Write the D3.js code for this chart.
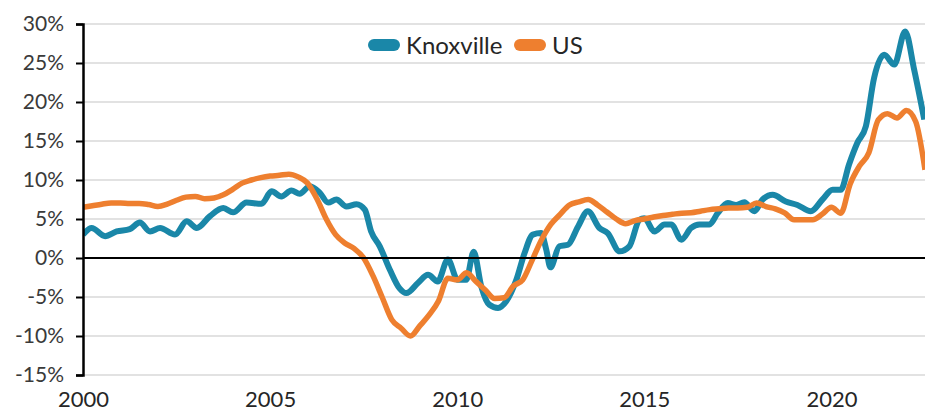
<!DOCTYPE html>
<html>
<head>
<meta charset="utf-8">
<script src="https://cdn.jsdelivr.net/npm/d3@7"></script>
<style>
  body { margin: 0; background: #fff; }
  svg { display: block; font-family: Lato, "Open Sans", sans-serif; }
</style>
</head>
<body>
<div id="container"></div>
<script>
// year-over-year change, %
const knoxYears = [2000.0, 2000.23, 2000.59, 2000.9, 2001.25, 2001.52, 2001.79, 2002.06, 2002.46, 2002.77,
  2003.04, 2003.39, 2003.75, 2004.01, 2004.37, 2004.77, 2005.04, 2005.3, 2005.57, 2005.79,
  2006.06, 2006.33, 2006.55, 2006.77, 2007.04, 2007.31, 2007.53, 2007.7, 2007.93, 2008.2,
  2008.46, 2008.64, 2008.95, 2009.22, 2009.48, 2009.75, 2010.01, 2010.24, 2010.44, 2010.64,
  2010.86, 2011.09, 2011.31, 2011.58, 2011.8, 2012.02, 2012.24, 2012.38, 2012.49, 2012.73,
  2012.96, 2013.23, 2013.49, 2013.8, 2014.02, 2014.34, 2014.6, 2014.87, 2015.0, 2015.27,
  2015.54, 2015.72, 2015.99, 2016.25, 2016.47, 2016.74, 2016.96, 2017.23, 2017.45, 2017.67,
  2017.94, 2018.16, 2018.43, 2018.78, 2019.09, 2019.45, 2019.76, 2020.03, 2020.25, 2020.47,
  2020.69, 2020.92, 2021.14, 2021.41, 2021.68, 2021.97, 2022.21, 2022.48];
const knoxValues = [3.0, 3.85, 2.8, 3.4, 3.7, 4.55, 3.4, 3.85, 3.0, 4.7,
  3.85, 5.35, 6.4, 5.85, 7.1, 6.95, 8.55, 7.9, 8.65, 8.25,
  9.2, 8.35, 7.1, 7.5, 6.6, 6.9, 6.2, 3.4, 1.5, -1.5,
  -3.9, -4.5, -3.2, -2.15, -3.0, -0.2, -2.8, -2.8, 0.8, -3.6,
  -6.0, -6.4, -5.55, -2.8, 0.65, 3.0, 3.2, 1.05, -1.2, 1.5,
  1.7, 4.05, 6.0, 3.85, 3.2, 0.85, 1.5, 4.9, 5.1, 3.4,
  4.3, 4.3, 2.35, 3.85, 4.3, 4.3, 5.75, 7.05, 6.8, 7.15,
  6.0, 7.5, 8.1, 7.25, 6.8, 6.0, 7.5, 8.75, 8.75, 12.0,
  14.75, 16.9, 23.1, 26.05, 24.8, 29.05, 24.15, 17.75];

const usYears = d3.range(2000, 2022.51, 0.25);
const usValues = [6.5, 6.7, 6.9, 7.05, 7.05, 7.0, 7.0, 6.85, 6.6, 6.9,
  7.4, 7.8, 7.9, 7.6, 7.7, 8.1, 8.8, 9.6, 10.0, 10.3,
  10.5, 10.6, 10.75, 10.4, 9.6, 7.6, 5.0, 3.0, 1.9, 1.2,
  0.0, -2.3, -5.1, -7.9, -9.0, -10.0, -8.7, -7.3, -5.5, -2.6,
  -2.8, -1.9, -3.0, -4.1, -5.2, -5.1, -3.6, -2.8, -0.3, 2.3,
  4.3, 5.6, 6.8, 7.2, 7.5, 6.8, 5.9, 5.0, 4.4, 4.8,
  5.0, 5.25, 5.45, 5.6, 5.75, 5.8, 6.0, 6.2, 6.3, 6.4,
  6.4, 6.5, 7.05, 6.6, 6.3, 5.8, 4.9, 4.9, 4.9, 5.6,
  6.5, 5.75, 9.5, 11.8, 13.5, 17.7, 18.5, 17.95, 18.9, 17.5,
  11.3];

const yTicks = [-15, -10, -5, 0, 5, 10, 15, 20, 25, 30];
const xTicks = [2000, 2005, 2010, 2015, 2020];
const seriesNames = ["Knoxville", "US"];
const colors = ["#1a87a8", "#ee7f2f"];

const w = 925, h = 411;
const margin = {top: 24, left: 83, bottom: 36, right: 0};

const svg = d3.select("#container").append("svg").attr("width", w).attr("height", h);

const xScale = d3.scaleLinear().domain([2000, 2022.5]).range([margin.left, w - margin.right]);
const yScale = d3.scaleLinear().domain([-15, 30]).range([h - margin.bottom, margin.top]);

// gridlines (the 0 line is drawn later in black)
svg.append("g").selectAll("line")
  .data(yTicks.filter(d => d !== 0))
  .enter().append("line")
    .attr("x1", margin.left).attr("x2", w)
    .attr("y1", d => yScale(d)).attr("y2", d => yScale(d))
    .attr("stroke", "#d9d9d9").attr("stroke-width", 1.5);

svg.append("clipPath").attr("id", "plot")
  .append("rect").attr("x", margin.left).attr("y", 0).attr("width", w - margin.left).attr("height", h);

const knox = knoxYears.map((x, i) => [x, knoxValues[i]]);
const us = usYears.map((x, i) => [x, usValues[i]]);

const line = d3.line().x(d => xScale(d[0])).y(d => yScale(d[1])).curve(d3.curveMonotoneX);

svg.append("path").datum(knox)
  .attr("clip-path", "url(#plot)")
  .attr("d", line)
  .attr("fill", "none").attr("stroke", colors[0]).attr("stroke-width", 6)
  .attr("stroke-linejoin", "round");
svg.append("path").datum(us)
  .attr("clip-path", "url(#plot)")
  .attr("d", line)
  .attr("fill", "none").attr("stroke", colors[1]).attr("stroke-width", 5.5)
  .attr("stroke-linejoin", "round");

// zero line
svg.append("line")
  .attr("x1", margin.left).attr("x2", w)
  .attr("y1", yScale(0)).attr("y2", yScale(0))
  .attr("stroke", "#000").attr("stroke-width", 2);

// y axis
const yAxis = d3.axisLeft(yScale).tickValues(yTicks).tickFormat(d => d + "%").tickSize(7).tickPadding(12);
const yAxisGroup = svg.append("g").attr("transform", `translate(${margin.left},0)`).call(yAxis);
yAxisGroup.select(".domain").attr("stroke", "#000").attr("stroke-width", 2.5);
yAxisGroup.selectAll(".tick line").attr("stroke", "#000").attr("stroke-width", 2);
yAxisGroup.selectAll("text").attr("font-size", 21).attr("fill", "#3a3a3a").attr("font-family", "Lato");

// x axis labels
const xAxis = d3.axisBottom(xScale).tickValues(xTicks).tickFormat(d3.format("d")).tickSize(0).tickPadding(16);
const xAxisGroup = svg.append("g").attr("transform", `translate(0,${yScale(-15)})`).call(xAxis);
xAxisGroup.select(".domain").remove();
xAxisGroup.selectAll("text").attr("font-size", 22).attr("fill", "#262626").attr("font-family", "Lato");

// legend
const legend = svg.append("g").attr("transform", "translate(368,45)");
const offsets = [0, 146];
seriesNames.forEach((name, i) => {
  const g = legend.append("g").attr("transform", `translate(${offsets[i]},0)`);
  g.append("line").attr("x1", 6).attr("x2", 26).attr("y1", 0).attr("y2", 0)
    .attr("stroke", colors[i]).attr("stroke-width", 12).attr("stroke-linecap", "round");
  g.append("text").attr("x", 38).attr("y", 8.5).text(name)
    .attr("font-size", 24).attr("fill", "#262626");
});
</script>
</body>
</html>
